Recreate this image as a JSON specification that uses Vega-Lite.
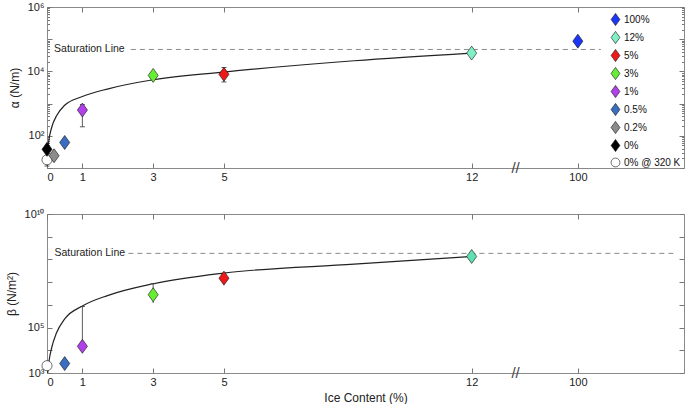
{
  "$schema": "https://vega.github.io/schema/vega-lite/v6.json",
  "padding": {"left": 4, "top": 0, "right": 2, "bottom": 0},
  "config": {
    "font": "Liberation Sans",
    "view": {"stroke": "#8a8a8a", "strokeWidth": 1},
    "axis": {"labelFont": "Liberation Sans", "labelFontSize": 11, "labelColor": "#222", "titleFont": "Liberation Sans", "titleFontWeight": "normal", "titleFontSize": 12, "titleColor": "#222", "tickColor": "#777", "domain": false, "grid": false}
  },
  "datasets": {
    "pts": [
      {"series": "0% @ 320 K", "x": 0, "alpha": 18, "alpha_lo": 11.5, "alpha_hi": 18, "beta": 2100, "beta_lo": 1800, "beta_hi": 2500},
      {"series": "100%", "x": 15, "alpha": 87000, "alpha_lo": null, "alpha_hi": null, "beta": null, "beta_lo": null, "beta_hi": null},
      {"series": "12%", "x": 12, "alpha": 37000, "alpha_lo": null, "alpha_hi": null, "beta": 135000000, "beta_lo": null, "beta_hi": null},
      {"series": "5%", "x": 5, "alpha": 8100, "alpha_lo": 4700, "alpha_hi": 13200, "beta": 15000000, "beta_lo": 12000000, "beta_hi": 19000000},
      {"series": "3%", "x": 3, "alpha": 7500, "alpha_lo": 6600, "alpha_hi": 8400, "beta": 2800000, "beta_lo": 1200000, "beta_hi": 8500000},
      {"series": "1%", "x": 1, "alpha": 630, "alpha_lo": 190, "alpha_hi": 930, "beta": 15000, "beta_lo": 15000, "beta_hi": 850000},
      {"series": "0.5%", "x": 0.5, "alpha": 62, "alpha_lo": 53, "alpha_hi": 72, "beta": 2600, "beta_lo": 2000, "beta_hi": 3300},
      {"series": "0.2%", "x": 0.2, "alpha": 24, "alpha_lo": 21, "alpha_hi": 27, "beta": null, "beta_lo": null, "beta_hi": null},
      {"series": "0%", "x": 0, "alpha": 38, "alpha_lo": null, "alpha_hi": null, "beta": null, "beta_lo": null, "beta_hi": null}
    ],
    "curveA": [
      {"x": 0.01, "v": 16}, {"x": 0.04, "v": 56}, {"x": 0.13, "v": 178}, {"x": 0.27, "v": 417}, {"x": 0.5, "v": 891}, {"x": 1, "v": 1660}, {"x": 1.73, "v": 2880}, {"x": 3, "v": 5500}, {"x": 5, "v": 9550}, {"x": 8.68, "v": 21400}, {"x": 12, "v": 37150}
    ],
    "curveB": [
      {"x": 0.02, "v": 1000}, {"x": 0.06, "v": 3550}, {"x": 0.13, "v": 12600}, {"x": 0.27, "v": 58900}, {"x": 0.5, "v": 240000}, {"x": 1, "v": 891000}, {"x": 1.73, "v": 2630000}, {"x": 3, "v": 8510000}, {"x": 5, "v": 25100000}, {"x": 8.68, "v": 61700000}, {"x": 12, "v": 135000000}
    ],
    "satA": [{"x1": 2.37, "x2": 15.65, "v": 48000, "tx": 0.2, "label": "Saturation Line"}],
    "satB": [{"x1": 2.3, "x2": 17.75, "v": 185000000, "tx": 0.21, "label": "Saturation Line"}],
    "brkA": [{"x": 13.24, "v": 10, "label": "//"}],
    "brkB": [{"x": 13.24, "v": 1000, "label": "//"}]
  },
  "spacing": 24,
  "resolve": {"scale": {"color": "independent", "shape": "independent"}},
  "vconcat": [
    {
      "width": 637,
      "height": 161,
      "resolve": {"axis": {"x": "independent", "y": "independent"}},
      "layer": [
        {
          "data": {"name": "curveA"},
          "mark": {"type": "line", "color": "#222", "strokeWidth": 1.2, "interpolate": "monotone"},
          "encoding": {
            "x": {"field": "x", "type": "quantitative", "scale": {"domain": [0, 18], "nice": false, "zero": false},
              "axis": {"orient": "bottom", "values": [0, 1, 3, 5, 12, 15], "labelExpr": "datum.value == 15 ? '100' : datum.label", "tickSize": -5, "labelPadding": 8, "title": null}},
            "y": {"field": "v", "type": "quantitative", "scale": {"type": "log", "domain": [10, 1000000], "nice": false},
              "axis": {"orient": "left", "title": "α (N/m)", "titlePadding": 6,
                "values": [10, 20, 30, 40, 50, 60, 70, 80, 90, 100, 200, 300, 400, 500, 600, 700, 800, 900, 1000, 2000, 3000, 4000, 5000, 6000, 7000, 8000, 9000, 10000, 20000, 30000, 40000, 50000, 60000, 70000, 80000, 90000, 100000, 200000, 300000, 400000, 500000, 600000, 700000, 800000, 900000, 1000000],
                "labelExpr": "datum.value == 100 ? '10²' : datum.value == 10000 ? '10⁴' : datum.value == 1000000 ? '10⁶' : ''",
                "tickSize": {"condition": {"test": "datum.value == 10 || datum.value == 100 || datum.value == 1000 || datum.value == 10000 || datum.value == 100000 || datum.value == 1000000", "value": -5}, "value": -2.5},
                "labelPadding": 8}}
          }
        },
        {
          "data": {"name": "satA"},
          "mark": {"type": "rule", "color": "#8a8a8a", "strokeWidth": 1, "strokeDash": [5, 4]},
          "encoding": {
            "x": {"field": "x1", "type": "quantitative", "scale": {"domain": [0, 18], "nice": false, "zero": false},
              "axis": {"orient": "top", "values": [0, 1, 3, 5, 12, 15], "labels": false, "tickSize": -5, "title": null}},
            "x2": {"field": "x2"},
            "y": {"field": "v", "type": "quantitative", "scale": {"type": "log", "domain": [10, 1000000], "nice": false},
              "axis": {"orient": "right", "title": null, "labels": false,
                "values": [10, 20, 30, 40, 50, 60, 70, 80, 90, 100, 200, 300, 400, 500, 600, 700, 800, 900, 1000, 2000, 3000, 4000, 5000, 6000, 7000, 8000, 9000, 10000, 20000, 30000, 40000, 50000, 60000, 70000, 80000, 90000, 100000, 200000, 300000, 400000, 500000, 600000, 700000, 800000, 900000, 1000000],
                "tickSize": {"condition": {"test": "datum.value == 10 || datum.value == 100 || datum.value == 1000 || datum.value == 10000 || datum.value == 100000 || datum.value == 1000000", "value": -5}, "value": -2.5}}}
          }
        },
        {
          "data": {"name": "satA"},
          "mark": {"type": "text", "align": "left", "baseline": "middle", "fontSize": 10.5, "color": "#222"},
          "encoding": {
            "x": {"field": "tx", "type": "quantitative", "axis": null},
            "y": {"field": "v", "type": "quantitative", "axis": null},
            "text": {"field": "label"}
          }
        },
        {
          "data": {"name": "brkA"},
          "mark": {"type": "text", "align": "center", "baseline": "middle", "fontSize": 15, "color": "#444"},
          "encoding": {
            "x": {"field": "x", "type": "quantitative", "axis": null},
            "y": {"field": "v", "type": "quantitative", "axis": null},
            "text": {"field": "label"}
          }
        },
        {
          "data": {"name": "pts"},
          "transform": [{"filter": "datum.alpha_lo != null"}],
          "mark": {"type": "rule", "color": "#333", "strokeWidth": 0.8},
          "encoding": {
            "x": {"field": "x", "type": "quantitative", "axis": null},
            "y": {"field": "alpha_lo", "type": "quantitative", "axis": null},
            "y2": {"field": "alpha_hi"}
          }
        },
        {
          "data": {"name": "pts"},
          "transform": [{"filter": "datum.alpha_lo != null"}],
          "mark": {"type": "tick", "orient": "horizontal", "color": "#333", "size": 5, "thickness": 0.8, "opacity": 1},
          "encoding": {
            "x": {"field": "x", "type": "quantitative", "axis": null},
            "y": {"field": "alpha_lo", "type": "quantitative", "axis": null}
          }
        },
        {
          "data": {"name": "pts"},
          "transform": [{"filter": "datum.alpha_lo != null"}],
          "mark": {"type": "tick", "orient": "horizontal", "color": "#333", "size": 5, "thickness": 0.8, "opacity": 1},
          "encoding": {
            "x": {"field": "x", "type": "quantitative", "axis": null},
            "y": {"field": "alpha_hi", "type": "quantitative", "axis": null}
          }
        },
        {
          "data": {"name": "pts"},
          "mark": {"type": "point", "filled": true, "stroke": "#111", "strokeWidth": 0.6, "size": 196, "opacity": 1},
          "encoding": {
            "x": {"field": "x", "type": "quantitative", "axis": null},
            "y": {"field": "alpha", "type": "quantitative", "axis": null},
            "color": {"field": "series", "type": "nominal",
              "scale": {"domain": ["100%", "12%", "5%", "3%", "1%", "0.5%", "0.2%", "0%", "0% @ 320 K"], "range": ["#1d35f5", "#7fefc6", "#ee1a1a", "#66ee33", "#b040e8", "#3a6ec0", "#8c8c8c", "#000000", "#ffffff"]},
              "legend": {"orient": "none", "legendX": 562, "legendY": 6, "padding": 0, "title": null, "rowPadding": 3, "labelFontSize": 10, "labelOffset": 2, "labelColor": "#111", "symbolSize": 150, "symbolStrokeColor": "#111", "symbolStrokeWidth": 0.6, "symbolOpacity": 1}},
            "shape": {"field": "series", "type": "nominal",
              "scale": {"domain": ["100%", "12%", "5%", "3%", "1%", "0.5%", "0.2%", "0%", "0% @ 320 K"], "range": ["M-0.72,0L0,-1L0.72,0L0,1Z", "M-0.72,0L0,-1L0.72,0L0,1Z", "M-0.72,0L0,-1L0.72,0L0,1Z", "M-0.72,0L0,-1L0.72,0L0,1Z", "M-0.72,0L0,-1L0.72,0L0,1Z", "M-0.72,0L0,-1L0.72,0L0,1Z", "M-0.72,0L0,-1L0.72,0L0,1Z", "M-0.72,0L0,-1L0.72,0L0,1Z", "M0.72,0A0.72,0.72,0,1,1,-0.72,0A0.72,0.72,0,1,1,0.72,0Z"]}}
          }
        }
      ]
    },
    {
      "width": 637,
      "height": 159,
      "resolve": {"axis": {"x": "independent", "y": "independent"}},
      "layer": [
        {
          "data": {"name": "curveB"},
          "mark": {"type": "line", "color": "#222", "strokeWidth": 1.2, "interpolate": "monotone"},
          "encoding": {
            "x": {"field": "x", "type": "quantitative", "scale": {"domain": [0, 18], "nice": false, "zero": false},
              "axis": {"orient": "bottom", "values": [0, 1, 3, 5, 12, 15], "labelExpr": "datum.value == 15 ? '100' : datum.label", "tickSize": -5, "labelPadding": 8, "title": "Ice Content (%)", "titlePadding": 5}},
            "y": {"field": "v", "type": "quantitative", "scale": {"type": "log", "domain": [1000, 10000000000], "nice": false},
              "axis": {"orient": "left", "title": "β (N/m²)", "titlePadding": 6,
                "values": [1000, 10000, 100000, 1000000, 10000000, 100000000, 1000000000, 10000000000],
                "labelExpr": "datum.value == 1000 ? '10³' : datum.value == 100000 ? '10⁵' : datum.value == 10000000000 ? '10¹⁰' : ''",
                "tickSize": -5, "labelPadding": 8}}
          }
        },
        {
          "data": {"name": "satB"},
          "mark": {"type": "rule", "color": "#8a8a8a", "strokeWidth": 1, "strokeDash": [5, 4]},
          "encoding": {
            "x": {"field": "x1", "type": "quantitative", "scale": {"domain": [0, 18], "nice": false, "zero": false},
              "axis": {"orient": "top", "values": [0, 1, 3, 5, 12, 15], "labels": false, "tickSize": -5, "title": null}},
            "x2": {"field": "x2"},
            "y": {"field": "v", "type": "quantitative", "scale": {"type": "log", "domain": [1000, 10000000000], "nice": false},
              "axis": {"orient": "right", "title": null, "labels": false,
                "values": [1000, 10000, 100000, 1000000, 10000000, 100000000, 1000000000, 10000000000], "tickSize": -5}}
          }
        },
        {
          "data": {"name": "satB"},
          "mark": {"type": "text", "align": "left", "baseline": "middle", "fontSize": 10.5, "color": "#222"},
          "encoding": {
            "x": {"field": "tx", "type": "quantitative", "axis": null},
            "y": {"field": "v", "type": "quantitative", "axis": null},
            "text": {"field": "label"}
          }
        },
        {
          "data": {"name": "brkB"},
          "mark": {"type": "text", "align": "center", "baseline": "middle", "fontSize": 15, "color": "#444"},
          "encoding": {
            "x": {"field": "x", "type": "quantitative", "axis": null},
            "y": {"field": "v", "type": "quantitative", "axis": null},
            "text": {"field": "label"}
          }
        },
        {
          "data": {"name": "pts"},
          "transform": [{"filter": "datum.beta_lo != null"}],
          "mark": {"type": "rule", "color": "#333", "strokeWidth": 0.8},
          "encoding": {
            "x": {"field": "x", "type": "quantitative", "axis": null},
            "y": {"field": "beta_lo", "type": "quantitative", "axis": null},
            "y2": {"field": "beta_hi"}
          }
        },
        {
          "data": {"name": "pts"},
          "transform": [{"filter": "datum.beta_lo != null"}],
          "mark": {"type": "tick", "orient": "horizontal", "color": "#333", "size": 5, "thickness": 0.8, "opacity": 1},
          "encoding": {
            "x": {"field": "x", "type": "quantitative", "axis": null},
            "y": {"field": "beta_hi", "type": "quantitative", "axis": null}
          }
        },
        {
          "data": {"name": "pts"},
          "transform": [{"filter": "datum.beta != null"}],
          "mark": {"type": "point", "filled": true, "stroke": "#111", "strokeWidth": 0.6, "size": 196, "opacity": 1},
          "encoding": {
            "x": {"field": "x", "type": "quantitative", "axis": null},
            "y": {"field": "beta", "type": "quantitative", "axis": null},
            "color": {"field": "series", "type": "nominal",
              "scale": {"domain": ["100%", "12%", "5%", "3%", "1%", "0.5%", "0.2%", "0%", "0% @ 320 K"], "range": ["#1d35f5", "#5fe0b0", "#ee1a1a", "#66ee33", "#b040e8", "#3a6ec0", "#8c8c8c", "#000000", "#ffffff"]},
              "legend": null},
            "shape": {"field": "series", "type": "nominal",
              "scale": {"domain": ["100%", "12%", "5%", "3%", "1%", "0.5%", "0.2%", "0%", "0% @ 320 K"], "range": ["M-0.72,0L0,-1L0.72,0L0,1Z", "M-0.72,0L0,-1L0.72,0L0,1Z", "M-0.72,0L0,-1L0.72,0L0,1Z", "M-0.72,0L0,-1L0.72,0L0,1Z", "M-0.72,0L0,-1L0.72,0L0,1Z", "M-0.72,0L0,-1L0.72,0L0,1Z", "M-0.72,0L0,-1L0.72,0L0,1Z", "M-0.72,0L0,-1L0.72,0L0,1Z", "M0.72,0A0.72,0.72,0,1,1,-0.72,0A0.72,0.72,0,1,1,0.72,0Z"]},
              "legend": null}
          }
        }
      ]
    }
  ]
}
